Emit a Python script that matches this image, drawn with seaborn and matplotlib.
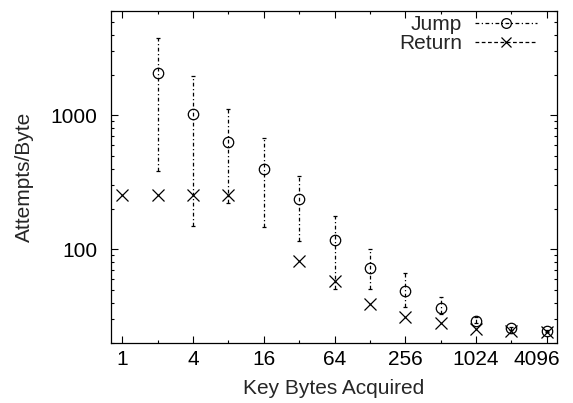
import matplotlib
matplotlib.use("Agg")
import matplotlib.pyplot as plt
from matplotlib.lines import Line2D
from matplotlib.ticker import FixedLocator, NullFormatter, LogLocator
from matplotlib.transforms import ScaledTranslation
import numpy as np
import pandas as pd
import seaborn as sns

# data (log-log plot)
jump_x = [2, 4, 8, 16, 32, 64, 128, 256, 512, 1024, 2048, 4096]
jump_y = [2084, 1030, 629, 395, 236, 117, 72, 48.6, 36.5, 29.3, 25.7, 24.6]
jump_lo = [384, 149, 220, 147, 115, 51, 51, 37.1, 33.1, 28.0, 25.0, 24.0]
jump_hi = [3800, 1964, 1122, 678, 352, 177, 101, 66.8, 43.8, 31.0, 26.5, 25.2]

ret_x = [1, 2, 4, 8, 32, 64, 128, 256, 512, 1024, 2048, 4096]
ret_y = [256, 256, 256, 256, 82, 58, 39, 31.2, 28.0, 25.6, 24.6, 24.2]

x_ticks = [1, 4, 16, 64, 256, 1024, 4096]
x_minor = [2, 8, 32, 128, 512, 2048]
y_ticks = [100, 1000]

sns.set_style("ticks")
plt.rcParams['font.family'] = ['Liberation Sans', 'DejaVu Sans']
plt.rcParams['font.size'] = 15

fig = plt.figure(figsize=(5.73, 4.03), dpi=100)
ax = fig.add_axes([0.1937, 0.1489, 0.7783, 0.8238])

jump = pd.DataFrame({"x": jump_x, "y": jump_y, "lo": jump_lo, "hi": jump_hi})
ret = pd.DataFrame({"x": ret_x, "y": ret_y})

# error bars (dash-dot) for Jump
eb = ax.errorbar(jump["x"], jump["y"],
                 yerr=[jump["y"] - jump["lo"], jump["hi"] - jump["y"]],
                 fmt="none", ecolor="black", elinewidth=0.9, capsize=1.5,
                 capthick=0.9)
for lc in eb[2]:
    lc.set_linestyle((0, (3, 2, 1, 2)))

sns.lineplot(data=jump, x="x", y="y", ax=ax, linestyle="", marker="o",
             markersize=7.5, markerfacecolor="none", markeredgecolor="black",
             markeredgewidth=0.9, color="black", errorbar=None, estimator=None)
sns.lineplot(data=ret, x="x", y="y", ax=ax, linestyle="", marker="x",
             markersize=8, markeredgecolor="black", markeredgewidth=0.9,
             color="black", errorbar=None, estimator=None)

ax.set_xscale("log", base=2)
ax.set_yscale("log")
ax.set_xlim(0.8, 5000)
ax.set_ylim(20, 6000)

ax.xaxis.set_major_locator(FixedLocator(x_ticks))
ax.xaxis.set_minor_locator(FixedLocator(x_minor))
ax.set_xticklabels([str(t) for t in x_ticks])
ax.xaxis.set_minor_formatter(NullFormatter())
ax.yaxis.set_major_locator(FixedLocator(y_ticks))
ax.yaxis.set_minor_locator(LogLocator(base=10, subs=np.arange(2, 10)))
ax.set_yticklabels([str(t) for t in y_ticks])
ax.yaxis.set_minor_formatter(NullFormatter())

ax.tick_params(which="both", direction="in", top=True, right=True,
               colors="black", width=0.8)
ax.tick_params(which="major", length=5, labelsize=15, pad=5)
ax.tick_params(axis="y", which="major", pad=10)
ax.tick_params(which="minor", length=2.5)
for s in ax.spines.values():
    s.set_visible(True)
    s.set_linewidth(0.9)
    s.set_color("black")

# keep the last x label inside the canvas, as in the original
labs = ax.get_xticklabels()
labs[-1].set_transform(labs[-1].get_transform() +
                       ScaledTranslation(-0.1, 0, fig.dpi_scale_trans))

ax.set_xlabel("Key Bytes Acquired", fontsize=15, labelpad=7)
ax.set_ylabel("Attempts/Byte", fontsize=15, labelpad=12)

handles = [
    Line2D([], [], color="black", linestyle=(0, (3, 2, 1, 2)), linewidth=0.9,
           marker="o", markersize=7, markerfacecolor="none", markeredgewidth=0.9),
    Line2D([], [], color="black", linestyle=(0, (3, 2)), linewidth=0.9,
           marker="x", markersize=7, markeredgewidth=0.9),
]
leg = ax.legend(handles, ["Jump", "Return"], loc="upper right", frameon=False,
                markerfirst=False, handlelength=3.0, fontsize=15,
                borderaxespad=0.1, borderpad=0.1, labelspacing=0.0,
                handletextpad=0.6, bbox_to_anchor=(0.965, 1.0))

fig.savefig("out.png", dpi=100)
